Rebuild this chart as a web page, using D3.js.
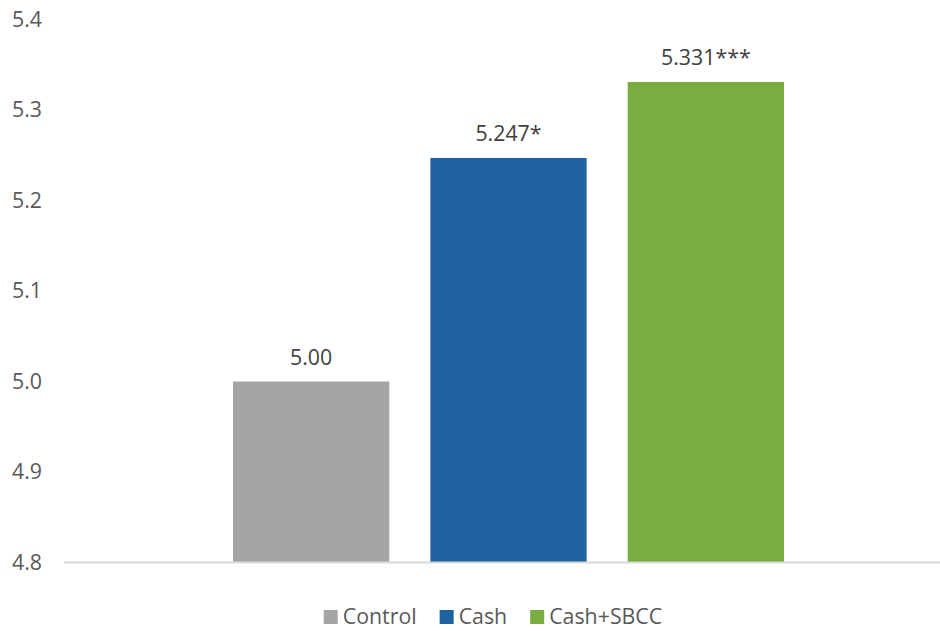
<!DOCTYPE html>
<html>
<head>
<meta charset="utf-8">
<script src="https://cdn.jsdelivr.net/npm/d3@7"></script>
<style>
  html, body { margin: 0; padding: 0; background: #fff; }
  svg { display: block; font-family: "Open Sans", sans-serif; }
</style>
</head>
<body>
<svg id="chart" width="940" height="631"></svg>
<script>
const categories = ["Control", "Cash", "Cash+SBCC"];
const values = [5.00, 5.247, 5.331];
const valueLabels = ["5.00", "5.247*", "5.331***"];
const colors = ["#a5a5a5", "#1f62a0", "#7aad41"];
const yTicks = [4.8, 4.9, 5.0, 5.1, 5.2, 5.3, 5.4];

const svg = d3.select("#chart");
const W = 940, H = 631;
const FS = 21.33;
const margin = { left: 64, right: -13, top: 19.5, bottom: 68.5 };
const plotBottom = H - margin.bottom;

const y = d3.scaleLinear().domain([4.8, 5.4]).range([plotBottom, margin.top]);
const x0 = d3.scaleBand().domain(["group"]).range([margin.left, W - margin.right])
  .paddingInner(0).paddingOuter(0.3067);
const x1 = d3.scaleBand().domain(categories).range([0, x0.bandwidth()])
  .paddingInner(41 / 197).paddingOuter(0);

// y tick labels
const yAxis = d3.axisLeft(y).tickValues(yTicks).tickFormat(d3.format(".1f")).tickSize(0).tickPadding(22);
const gy = svg.append("g").attr("transform", `translate(${margin.left},0)`).call(yAxis);
gy.select(".domain").remove();
gy.selectAll("text").attr("font-size", FS).attr("fill", "#595959")
  .attr("font-family", "Open Sans, sans-serif");

// bars
const g = svg.append("g").attr("transform", `translate(${x0("group")},0)`);
g.selectAll("rect").data(categories).join("rect")
  .attr("x", d => x1(d))
  .attr("width", x1.bandwidth())
  .attr("y", (d, i) => y(values[i]))
  .attr("height", (d, i) => y(4.8) - y(values[i]))
  .attr("fill", (d, i) => colors[i]);

// value labels
g.selectAll("text.val").data(categories).join("text")
  .attr("class", "val")
  .attr("x", d => x1(d) + x1.bandwidth() / 2)
  .attr("y", (d, i) => y(values[i]) - 17)
  .attr("text-anchor", "middle")
  .attr("font-size", FS)
  .attr("fill", "#404040")
  .text((d, i) => valueLabels[i]);

// baseline
svg.append("line")
  .attr("x1", margin.left).attr("x2", W)
  .attr("y1", y(4.8)).attr("y2", y(4.8))
  .attr("stroke", "#d9d9d9").attr("stroke-width", 2);

// legend
const legend = svg.append("g");
const items = legend.selectAll("g").data(categories).join("g");
items.append("rect").attr("width", 14).attr("height", 14).attr("y", -14)
  .attr("fill", (d, i) => colors[i]);
items.append("text").attr("x", 19).attr("y", 0)
  .attr("font-size", FS).attr("fill", "#595959").text(d => d);
let cx = 0;
items.each(function() {
  d3.select(this).attr("transform", `translate(${cx},0)`);
  const tw = d3.select(this).select("text").node().getComputedTextLength();
  cx += 19 + tw + 23;
});
const totalW = cx - 23;
legend.attr("transform", `translate(${493 - totalW / 2},${624})`);
</script>
</body>
</html>
